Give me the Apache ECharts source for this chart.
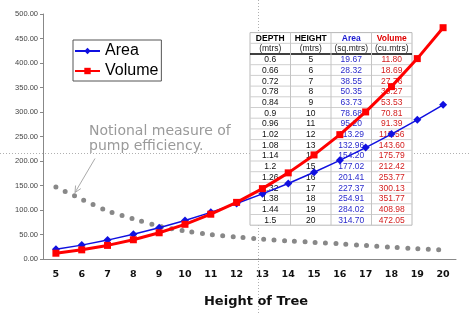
<!DOCTYPE html>
<html>
<head>
<meta charset="utf-8">
<title>Height of Tree</title>
<script src="https://cdn.jsdelivr.net/npm/echarts@6/dist/echarts.min.js"></script>
<style>
  html, body { margin: 0; padding: 0; background: #fff; }
  #main { width: 469px; height: 313px; }
</style>
</head>
<body>
<div id="main"></div>
<script>
// data
var heights = ['5', '6', '7', '8', '9', '10', '11', '12', '13', '14', '15', '16', '17', '18', '19', '20'];
var depths = ['0.6', '0.66', '0.72', '0.78', '0.84', '0.9', '0.96', '1.02', '1.08', '1.14', '1.2', '1.26', '1.32', '1.38', '1.44', '1.5'];
var area = [19.67, 28.32, 38.55, 50.35, 63.73, 78.68, 95.20, 113.29, 132.96, 154.20, 177.02, 201.41, 227.37, 254.91, 284.02, 314.70];
var volume = [11.80, 18.69, 27.76, 39.27, 53.53, 70.81, 91.39, 115.56, 143.60, 175.79, 212.42, 253.77, 300.13, 351.77, 408.98, 472.05];
// grey dotted curve, estimated
var efficiency = [147, 122, 98, 82, 67, 57, 50, 45, 40.5, 37, 34, 31, 27.5, 24, 21, 18.4];

var myChart = echarts.init(document.getElementById('main'));

// table on the right, drawn with graphic elements
var colX = [250, 290.5, 331, 371.5, 412];
var tTop = 32.6;
var rowH = 10.7;
var headTop = ['DEPTH', 'HEIGHT', 'Area', 'Volume'];
var headSub = ['(mtrs)', '(mtrs)', '(sq.mtrs)', '(cu.mtrs)'];
var colColor = ['#111', '#111', '#2a2acc', '#d42020'];
var headColor = ['#000', '#000', '#1a1ad0', '#e00000'];

var table = [];
var nRows = depths.length + 2;
var tBottom = tTop + nRows * rowH;

table.push({
  type: 'rect', z: 5,
  shape: { x: colX[0], y: tTop, width: colX[4] - colX[0], height: tBottom - tTop },
  style: { fill: '#fff', stroke: '#b8b8b8', lineWidth: 1 }
});
// horizontal cell lines
for (var r = 1; r < nRows; r++) {
  var yy = tTop + r * rowH;
  table.push({
    type: 'line', z: 6,
    shape: { x1: colX[0], y1: yy, x2: colX[4], y2: yy },
    style: { stroke: r == 2 ? '#000' : '#cfcfcf', lineWidth: r == 2 ? 1.3 : 1 }
  });
}
// vertical cell lines
for (var c = 1; c < 4; c++) {
  table.push({
    type: 'line', z: 6,
    shape: { x1: colX[c], y1: tTop, x2: colX[c], y2: tBottom },
    style: { stroke: '#c4c4c4', lineWidth: 1 }
  });
}

function cell(text, col, row, color, bold) {
  table.push({
    type: 'text', z: 7,
    style: {
      text: text,
      x: (colX[col] + colX[col + 1]) / 2,
      y: tTop + row * rowH + rowH / 2 + 0.5,
      fill: color,
      font: (bold ? 'bold ' : '') + '8.5px "Liberation Sans", Arial, sans-serif',
      textAlign: 'center',
      textVerticalAlign: 'middle'
    }
  });
}

for (var h = 0; h < 4; h++) {
  cell(headTop[h], h, 0, headColor[h], true);
  cell(headSub[h], h, 1, '#222', false);
}
for (var i = 0; i < depths.length; i++) {
  cell(depths[i], 0, i + 2, colColor[0], false);
  cell(heights[i], 1, i + 2, colColor[1], false);
  cell(area[i].toFixed(2), 2, i + 2, colColor[2], false);
  cell(volume[i].toFixed(2), 3, i + 2, colColor[3], false);
}

// arrow from the note to the dotted curve
var ax1 = 95, ay1 = 158.5, ax2 = 75, ay2 = 192.5;
var ang = Math.atan2(ay1 - ay2, ax1 - ax2);
var headLen = 7;
var arrow = [
  { type: 'line', z: 4, shape: { x1: ax1, y1: ay1, x2: ax2, y2: ay2 }, style: { stroke: '#aaa', lineWidth: 1 } },
  {
    type: 'polyline', z: 4,
    shape: { points: [
      [ax2 + headLen * Math.cos(ang - 0.45), ay2 + headLen * Math.sin(ang - 0.45)],
      [ax2, ay2],
      [ax2 + headLen * Math.cos(ang + 0.45), ay2 + headLen * Math.sin(ang + 0.45)]
    ] },
    style: { stroke: '#aaa', lineWidth: 1, fill: null }
  }
];

var guides = [
  { type: 'line', z: 1, shape: { x1: 258.5, y1: 0, x2: 258.5, y2: 313 }, style: { stroke: '#b0b0b0', lineWidth: 1, lineDash: [1, 2] } },
  { type: 'line', z: 1, shape: { x1: 0, y1: 153.5, x2: 469, y2: 153.5 }, style: { stroke: '#b0b0b0', lineWidth: 1, lineDash: [1, 2] } }
];

var note = {
  type: 'text', z: 4,
  style: {
    text: 'Notional measure of\npump efficiency.',
    x: 89, y: 124,
    fill: '#9a9a9a',
    font: '14px "DejaVu Sans", sans-serif',
    lineHeight: 15
  }
};

var option = {
  animation: false,
  backgroundColor: '#fff',
  grid: { left: 43, right: 13, top: 14, bottom: 54, containLabel: false },
  legend: {
    data: ['Area', 'Volume'],
    orient: 'vertical',
    left: 73, top: 40,
    itemWidth: 25, itemHeight: 8, itemGap: 4,
    padding: [3, 3, 2, 1],
    borderColor: '#555', borderWidth: 1,
    textStyle: { fontSize: 16, fontFamily: '"Liberation Sans", Arial, sans-serif', color: '#000' }
  },
  xAxis: {
    type: 'category',
    data: heights,
    boundaryGap: true,
    name: 'Height of Tree',
    nameLocation: 'middle',
    nameGap: 36,
    nameTextStyle: { fontSize: 13, fontWeight: 'bold', fontFamily: '"DejaVu Sans", sans-serif', color: '#111', padding: [0, 0, 0, 13] },
    axisLine: { lineStyle: { color: '#888' } },
    axisTick: { length: 4, lineStyle: { color: '#888' } },
    axisLabel: { margin: 11, fontSize: 9.5, fontWeight: 'bold', fontFamily: '"DejaVu Sans", sans-serif', color: '#111' }
  },
  yAxis: {
    type: 'value',
    min: 0, max: 500, interval: 50,
    axisLine: { show: true, lineStyle: { color: '#888' } },
    axisTick: { show: true, length: 3, lineStyle: { color: '#888' } },
    splitLine: { show: false },
    axisLabel: {
      margin: 5, fontSize: 7.5, color: '#444', fontFamily: '"Liberation Sans", Arial, sans-serif',
      formatter: function (v) { return v.toFixed(2); }
    }
  },
  graphic: guides.concat(table, arrow, [note]),
  series: [
    {
      name: 'Efficiency',
      type: 'line',
      data: efficiency,
      smooth: 0.3,
      symbol: 'none',
      z: 8,
      lineStyle: { color: '#888', width: 5, type: [0, 10.3], cap: 'round' }
    },
    {
      name: 'Area',
      type: 'line',
      data: area,
      symbol: 'diamond',
      symbolSize: 8,
      z: 9,
      itemStyle: { color: '#1010e0' },
      lineStyle: { color: '#1010e0', width: 1.5 }
    },
    {
      name: 'Volume',
      type: 'line',
      data: volume,
      symbol: 'rect',
      symbolSize: 7,
      z: 10,
      itemStyle: { color: '#ff0000' },
      lineStyle: { color: '#ff0000', width: 3 }
    }
  ]
};

myChart.setOption(option);
</script>
</body>
</html>
